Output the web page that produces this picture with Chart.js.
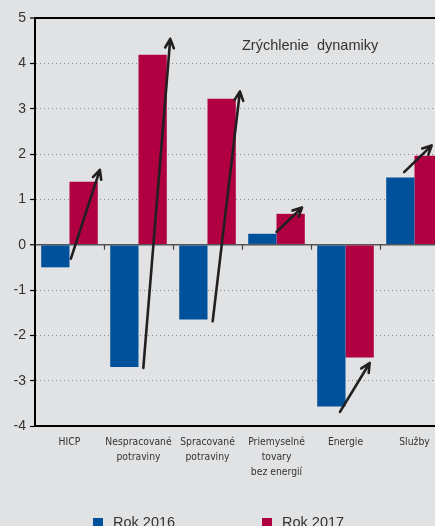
<!DOCTYPE html>
<html lang="sk">
<head>
    <meta charset="UTF-8">
    <title>Zrýchlenie dynamiky</title>
    <style>
        html, body {
            margin: 0;
            padding: 0;
            background-color: #e1e2e4;
            overflow: hidden;
        }
        .wrap {
            position: relative;
            width: 450px;
            height: 526px;
        }
        .legend {
            position: absolute;
            top: 514px;
            left: 0;
            font-family: "Liberation Sans", sans-serif;
            font-size: 14.5px;
            color: #333;
        }
        .legend-item {
            position: absolute;
            white-space: nowrap;
        }
        .legend-item span {
            display: inline-block;
            width: 10px;
            height: 9px;
            margin-right: 10px;
            vertical-align: 0px;
        }
    </style>
</head>
<body>
    <div class="wrap">
        <canvas id="chart" width="450" height="526"></canvas>
        <div class="legend" id="legend"></div>
    </div>

    <script src="https://cdn.jsdelivr.net/npm/chart.js"></script>
    <script>
        // Data
        const categories = [
            'HICP',
            ['Nespracované', 'potraviny'],
            ['Spracované', 'potraviny'],
            ['Priemyselné', 'tovary', 'bez energií'],
            'Energie',
            'Služby'
        ];
        const rok2016 = [-0.5, -2.7, -1.65, 0.24, -3.57, 1.48];
        const rok2017 = [1.39, 4.19, 3.22, 0.68, -2.49, 1.96];

        // Arrows: [category position, value] from -> to
        const arrowFrom = [[0.02, -0.31], [1.07, -2.72], [2.075, -1.69], [3.0, 0.28], [3.92, -3.69], [4.85, 1.6]];
        const arrowTo = [[0.44, 1.65], [1.46, 4.54], [2.47, 3.38], [3.37, 0.82], [4.35, -2.61], [5.25, 2.19]];

        const yTicks = [5, 4, 3, 2, 1, 0, -1, -2, -3, -4];
        const titleText = 'Zrýchlenie  dynamiky';

        const blue = '#00519b';
        const red = '#b00041';
        const ink = '#231f20';

        // Arrows, title and small ticks on the zero line
        const extras = {
            id: 'extras',
            beforeDatasetsDraw(chart) {
                const ctx = chart.ctx;
                const x = chart.scales.x;
                const y = chart.scales.y;
                const y0 = y.getPixelForValue(0);
                ctx.save();
                ctx.strokeStyle = '#444';
                ctx.lineWidth = 1.2;
                for (let i = 0; i < categories.length - 1; i++) {
                    const px = Math.round(x.getPixelForValue(i + 0.5)) + 0.5;
                    ctx.beginPath();
                    ctx.moveTo(px, y0);
                    ctx.lineTo(px, y0 + 5);
                    ctx.stroke();
                }
                ctx.restore();
            },
            afterDatasetsDraw(chart) {
                const ctx = chart.ctx;
                const x = chart.scales.x;
                const y = chart.scales.y;
                ctx.save();
                ctx.strokeStyle = ink;
                ctx.lineWidth = 2.6;
                ctx.lineCap = 'round';
                ctx.lineJoin = 'round';
                arrowFrom.forEach((from, i) => {
                    const to = arrowTo[i];
                    const x1 = x.getPixelForValue(from[0]);
                    const y1 = y.getPixelForValue(from[1]);
                    const x2 = x.getPixelForValue(to[0]);
                    const y2 = y.getPixelForValue(to[1]);
                    const ang = Math.atan2(y2 - y1, x2 - x1);
                    const head = 10;
                    ctx.beginPath();
                    ctx.moveTo(x1, y1);
                    ctx.lineTo(x2, y2);
                    ctx.moveTo(x2 - head * Math.cos(ang - 0.45), y2 - head * Math.sin(ang - 0.45));
                    ctx.lineTo(x2, y2);
                    ctx.lineTo(x2 - head * Math.cos(ang + 0.45), y2 - head * Math.sin(ang + 0.45));
                    ctx.stroke();
                });

                ctx.fillStyle = '#333';
                ctx.font = '14.5px "Liberation Sans", sans-serif';
                ctx.textBaseline = 'alphabetic';
                ctx.fillText(titleText, 242, 50);
                ctx.restore();
            }
        };

        new Chart(document.getElementById('chart'), {
            type: 'bar',
            data: {
                labels: categories,
                datasets: [
                    { label: 'Rok 2016', data: rok2016, backgroundColor: blue },
                    { label: 'Rok 2017', data: rok2017, backgroundColor: red }
                ]
            },
            options: {
                responsive: false,
                animation: false,
                devicePixelRatio: 1,
                categoryPercentage: 0.82,
                barPercentage: 1,
                layout: { padding: { top: 18, right: 1, left: 0, bottom: 0 } },
                plugins: {
                    legend: { display: false },
                    tooltip: { enabled: false }
                },
                scales: {
                    x: {
                        grid: { display: false, drawTicks: false },
                        border: { display: true, color: '#000', width: 2 },
                        ticks: {
                            padding: 9,
                            color: '#333',
                            maxRotation: 0,
                            autoSkip: false,
                            font: { family: '"DejaVu Sans Condensed", sans-serif', size: 10.3, lineHeight: 1.45 }
                        },
                        afterFit(scale) { scale.height = 100; }
                    },
                    y: {
                        min: -4,
                        max: 5,
                        afterBuildTicks(scale) {
                            scale.ticks = yTicks.map(v => ({ value: v }));
                        },
                        grid: {
                            color(c) {
                                const v = c.tick ? c.tick.value : null;
                                if (v === 5) return '#000';
                                if (v === -4) return 'rgba(0,0,0,0)';
                                if (v === 0) return '#555';
                                return '#8a8a8a';
                            },
                            lineWidth(c) {
                                const v = c.tick ? c.tick.value : null;
                                if (v === 5) return 2;
                                if (v === 0) return 1.5;
                                return 1;
                            },
                            tickColor: '#000',
                            tickLength: 5,
                            tickWidth: 1.2
                        },
                        border: {
                            display: true,
                            color: '#000',
                            width: 2,
                            dash(c) {
                                if (!c.tick) return [];
                                const v = c.tick.value;
                                if (v === 5 || v === 0 || v === -4) return [];
                                return [1, 3];
                            }
                        },
                        ticks: {
                            padding: 4,
                            color: '#333',
                            font: { family: '"Liberation Sans", sans-serif', size: 14 }
                        },
                        afterFit(scale) { scale.width = 35; }
                    }
                }
            },
            plugins: [extras]
        });

        // Legend
        const legendPos = [93, 262];
        const legend = document.getElementById('legend');
        [['Rok 2016', blue], ['Rok 2017', red]].forEach((item, i) => {
            const el = document.createElement('div');
            el.className = 'legend-item';
            el.style.left = legendPos[i] + 'px';
            el.innerHTML = '<span style="background:' + item[1] + '"></span>' + item[0];
            legend.appendChild(el);
        });
    </script>
</body>
</html>
